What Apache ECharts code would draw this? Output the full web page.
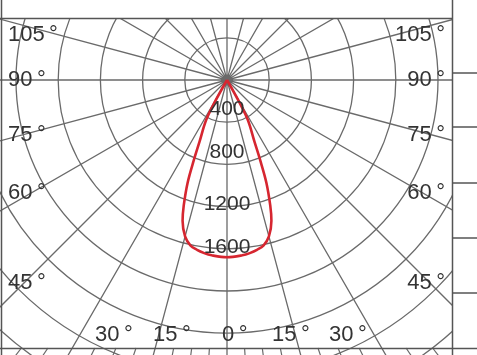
<!DOCTYPE html>
<html><head><meta charset="utf-8">
<script src="https://cdn.jsdelivr.net/npm/echarts@6/dist/echarts.min.js"></script>
<style>html,body{margin:0;padding:0;background:#fff}#c{width:477px;height:355px}</style>
</head><body><div id="c"></div>
<script>
// Photometric curve: angle from nadir (deg) and intensity (cd)
var curveAngles = [-32, -29, -27.5, -24, -22.5, -21, -19, -17.5, -15, -12.5, -10, -7.5, -5, 0, 5, 7.5, 10, 12.5, 15, 17.5, 19, 21, 22.5, 24, 27.5, 29, 32];
var curveValues = [0, 230, 430, 640, 820, 1040, 1260, 1400, 1535, 1605, 1635, 1655, 1668, 1680, 1668, 1655, 1635, 1605, 1535, 1400, 1260, 1040, 820, 640, 430, 230, 0];
var ringLabels = ['400', '800', '1200', '1600'];
var leftAngleLabels = ['105', '90', '75', '60', '45'];
var bottomAngleLabels = ['30', '15', '0', '15', '30'];
var rightAngleLabels = ['105', '90', '75', '60', '45'];
var fineRayAngles = [-41.25, -37.5, -33.75, -26.25, -22.5, -18.75, -11.25, -7.5, -3.75, 3.75, 7.5, 11.25, 18.75, 22.5, 26.25, 33.75, 37.5, 41.25];

var RMAX = 4000, RPX = 422, CX = 227, CY = 80, FRAME_BOTTOM = 348;
var curveData = curveAngles.map(function (a, i) { return [curveValues[i], a]; });
var fineData = [];
fineRayAngles.forEach(function (a) {
  var startPx = (FRAME_BOTTOM - CY) / Math.cos(a * Math.PI / 180);
  fineData.push([startPx / RPX * RMAX, a]); fineData.push([RMAX, a]); fineData.push('-');
});

var chart = echarts.init(document.getElementById('c'), null, {renderer: 'canvas'});
var TXT = '#333333';
var LINE = '#6a6a6a';
var FRAME = '#555555';
var FONT = 'Liberation Sans, Arial, sans-serif';
var DEG = '\u2009\u00b0';

var leftY = [35, 80, 135, 193, 283];
var bottomX = [95, 153, 222, 272, 329];
var ringY = [109, 152, 204, 247];

var graphics = [];
graphics.push({type: 'rect', shape: {x: 0, y: 0, width: 477, height: 18}, style: {fill: '#fff'}, z: 50});
graphics.push({type: 'rect', shape: {x: 453, y: 0, width: 24, height: 355}, style: {fill: '#fff'}, z: 50});
function ln(x1, y1, x2, y2) {
  graphics.push({type: 'line', shape: {x1: x1, y1: y1, x2: x2, y2: y2}, style: {stroke: FRAME, lineWidth: 1.5}, z: 60});
}
ln(0, 18.5, 452.5, 18.5);
ln(1.5, 0, 1.5, 355);
ln(452.5, 0, 452.5, 355);
ln(0, 348.5, 477, 348.5);
[73, 127, 183, 238, 293].forEach(function (y) { ln(452.5, y, 477, y); });

leftAngleLabels.forEach(function (t, i) {
  graphics.push({type: 'text', x: 8, y: leftY[i], style: {text: t + DEG, font: '22px ' + FONT, fill: TXT, textAlign: 'left', textVerticalAlign: 'middle'}, z: 70});
});
rightAngleLabels.forEach(function (t, i) {
  graphics.push({type: 'text', x: 445, y: leftY[i], style: {text: t + DEG, font: '22px ' + FONT, fill: TXT, textAlign: 'right', textVerticalAlign: 'middle'}, z: 70});
});
bottomAngleLabels.forEach(function (t, i) {
  graphics.push({type: 'text', x: bottomX[i], y: 335, style: {text: t + DEG, font: '22px ' + FONT, fill: TXT, textAlign: 'left', textVerticalAlign: 'middle'}, z: 70});
});
ringLabels.forEach(function (t, i) {
  graphics.push({type: 'text', x: CX, y: ringY[i], style: {text: t, font: '21px ' + FONT, fill: TXT, textAlign: 'center', textVerticalAlign: 'middle'}, z: 70});
});

chart.setOption({
  animation: false,
  backgroundColor: '#fff',
  polar: {center: [CX, CY], radius: RPX},
  angleAxis: {
    type: 'value', min: -180, max: 180, interval: 15, startAngle: 90, clockwise: false,
    axisLine: {show: false}, axisTick: {show: false}, axisLabel: {show: false},
    splitLine: {show: true, lineStyle: {color: LINE, width: 1.3}}
  },
  radiusAxis: {
    type: 'value', min: 0, max: RMAX, interval: 400,
    axisLine: {show: false}, axisTick: {show: false}, axisLabel: {show: false},
    splitLine: {show: true, lineStyle: {color: LINE, width: 1.3}}
  },
  series: [
    {type: 'line', coordinateSystem: 'polar', data: fineData, symbol: 'none', connectNulls: false,
     lineStyle: {color: LINE, width: 1.2}, silent: true, z: 1},
    {type: 'line', coordinateSystem: 'polar', data: curveData, symbol: 'none', smooth: 0.35,
     lineStyle: {color: '#d62630', width: 2.6}, z: 5}
  ],
  graphic: graphics
});
</script></body></html>
